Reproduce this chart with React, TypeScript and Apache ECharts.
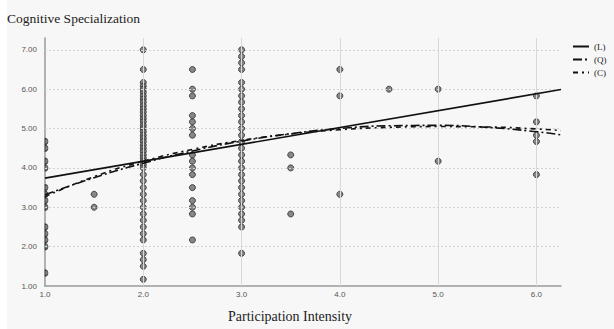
import React, { useEffect, useRef } from "react";
import * as echarts from "echarts";

const yTitle = "Cognitive Specialization";
const xTitle = "Participation Intensity";
const legendNames = ["(L)", "(Q)", "(C)"];

const xTicks = [1, 2, 3, 4, 5, 6];
const yTicks = [1, 2, 3, 4, 5, 6, 7];

// scatter columns: x value -> y values
const col1_0 = [4.67, 4.5, 4.17, 4.0, 3.5, 3.33, 3.17, 3.0, 2.5, 2.33, 2.17, 2.0, 1.33];
const col1_5 = [3.33, 3.0];
const col2_0 = [
  7.0, 6.5, 6.17, 6.08, 6.0, 5.92, 5.83, 5.75, 5.67, 5.58, 5.5, 5.42, 5.33, 5.25, 5.17, 5.08,
  5.0, 4.92, 4.83, 4.75, 4.67, 4.58, 4.5, 4.42, 4.33, 4.25, 4.17, 4.08, 4.0, 3.83, 3.67, 3.5,
  3.33, 3.17, 3.0, 2.83, 2.67, 2.5, 2.33, 2.17, 1.83, 1.67, 1.5, 1.17,
];
const col2_5 = [6.5, 6.0, 5.83, 5.33, 5.17, 5.0, 4.83, 4.33, 4.17, 4.0, 3.83, 3.5, 3.17, 3.0, 2.83, 2.17];
const col3_0 = [
  7.0, 6.83, 6.67, 6.5, 6.17, 6.0, 5.83, 5.67, 5.5, 5.33, 5.17, 5.0, 4.83, 4.67, 4.5, 4.33,
  4.17, 4.0, 3.83, 3.67, 3.5, 3.33, 3.17, 3.0, 2.83, 2.67, 2.5, 1.83,
];
const col3_5 = [4.33, 4.0, 2.83];
const col4_0 = [6.5, 5.83, 3.33];
const col4_5 = [6.0];
const col5_0 = [6.0, 4.17];
const col6_0 = [5.83, 5.17, 4.83, 4.67, 3.83];

const innerColumns: [number, number[]][] = [
  [1.5, col1_5],
  [2.0, col2_0],
  [2.5, col2_5],
  [3.0, col3_0],
  [3.5, col3_5],
  [4.0, col4_0],
  [4.5, col4_5],
  [5.0, col5_0],
  [6.0, col6_0],
];

// fit curves
const linX = [1, 6.25];
const linY = [3.74, 5.99];
const curveX = [1, 1.5, 2, 2.5, 3, 3.5, 4, 4.5, 5, 5.5, 6, 6.25];
const quadY = [3.32, 3.75, 4.12, 4.43, 4.68, 4.87, 5.0, 5.07, 5.08, 5.03, 4.92, 4.84];
const cubY = [3.27, 3.78, 4.17, 4.47, 4.7, 4.86, 4.97, 5.03, 5.05, 5.04, 4.99, 4.95];

const zip = (xs: number[], ys: number[]) => xs.map((x, i) => [x, ys[i]]);

export default function App() {
  const ref = useRef<HTMLDivElement>(null);
  useEffect(() => {
    if (!ref.current) return;
    const chart = echarts.init(ref.current, null, { renderer: "svg" });
    const mainPts: number[][] = [];
    innerColumns.forEach(([x, ys]) => ys.forEach((y) => mainPts.push([x, y])));
    const edgePts = col1_0.map((y) => [1, y]);

    const gridLines: any[] = [];
    yTicks.slice(1).forEach((v) =>
      gridLines.push({ yAxis: v, lineStyle: { color: "#d2d2d2", type: [2, 2], width: 1 } })
    );
    xTicks.slice(1).forEach((v) =>
      gridLines.push({ xAxis: v, lineStyle: { color: "#d8d8d8", type: "solid", width: 1 } })
    );

    const axisLabelStyle = {
      fontFamily: "Liberation Sans",
      fontSize: 8,
      color: "#555",
    };
    const dotStyle = { color: "#6a6a6a", borderColor: "#2c2c2c", borderWidth: 1 };

    chart.setOption({
      animation: false,
      backgroundColor: "transparent",
      color: ["#111", "#111", "#111"],
      grid: { left: 38, right: 53, top: 38, bottom: 43, containLabel: false },
      xAxis: {
        type: "value",
        min: 1,
        max: 6.25,
        interval: 1,
        axisLine: { show: true, lineStyle: { color: "#9a9a9a", width: 1.5 } },
        axisTick: { show: false },
        splitLine: { show: false },
        axisLabel: {
          ...axisLabelStyle,
          margin: 4,
          formatter: (v: number) => (Number.isInteger(v) ? v.toFixed(1) : ""),
        },
      },
      yAxis: {
        type: "value",
        min: 1,
        max: 7.3,
        interval: 1,
        axisLine: { show: true, onZero: false, lineStyle: { color: "#9a9a9a", width: 1.5 } },
        axisTick: { show: false },
        splitLine: { show: false },
        axisLabel: {
          ...axisLabelStyle,
          margin: 8,
          formatter: (v: number) => (Number.isInteger(v) ? v.toFixed(2) : ""),
        },
      },
      legend: {
        orient: "vertical",
        left: 565,
        top: 42,
        padding: 0,
        itemWidth: 16,
        itemHeight: 10,
        itemGap: 4,
        data: legendNames,
        itemStyle: { opacity: 0 },
        textStyle: { fontFamily: "Liberation Serif", fontSize: 9, color: "#222" },
      },
      graphic: [
        {
          type: "text",
          x: 0,
          y: 18,
          style: {
            text: yTitle,
            fontFamily: "Liberation Serif",
            fontSize: 13.5,
            fill: "#222",
            verticalAlign: "middle",
            align: "left",
          },
        },
        {
          type: "text",
          x: 283,
          y: 316,
          style: {
            text: xTitle,
            fontFamily: "Liberation Serif",
            fontSize: 14,
            fill: "#222",
            verticalAlign: "middle",
            align: "center",
          },
        },
      ],
      series: [
        {
          type: "scatter",
          data: [],
          z: 0,
          silent: true,
          markLine: {
            silent: true,
            symbol: ["none", "none"],
            label: { show: false },
            data: gridLines,
            animation: false,
          },
        },
        {
          type: "scatter",
          data: mainPts,
          symbol: "circle",
          symbolSize: 6,
          clip: false,
          z: 2,
          itemStyle: dotStyle,
        },
        {
          type: "scatter",
          data: edgePts,
          symbol: "path://M0,0 A10,10 0 0 1 0,20 Z",
          symbolSize: [3, 6],
          symbolOffset: [1.5, 0],
          clip: false,
          z: 2,
          itemStyle: dotStyle,
        },
        {
          name: legendNames[0],
          type: "line",
          data: zip(linX, linY),
          symbol: "none",
          z: 5,
          itemStyle: { color: "#111" },
          lineStyle: { color: "#111", width: 1.6, type: "solid" },
        },
        {
          name: legendNames[1],
          type: "line",
          data: zip(curveX, quadY),
          symbol: "none",
          smooth: true,
          z: 5,
          itemStyle: { color: "#111" },
          lineStyle: { color: "#111", width: 1.6, type: [9, 3, 2, 3] },
        },
        {
          name: legendNames[2],
          type: "line",
          data: zip(curveX, cubY),
          symbol: "none",
          smooth: true,
          z: 5,
          itemStyle: { color: "#111" },
          lineStyle: { color: "#111", width: 1.6, type: [5, 4, 2, 4] },
        },
      ],
    });
    return () => chart.dispose();
  }, []);

  return (
    <div
      style={{
        position: "fixed",
        left: 0,
        top: 0,
        width: 614,
        height: 329,
        background: "#ffffff",
        overflow: "hidden",
      }}
    >
      <div
        ref={ref}
        style={{
          position: "absolute",
          left: 7,
          top: 0,
          width: 607,
          height: 329,
          background: "#f7f7f7",
        }}
      />
    </div>
  );
}
